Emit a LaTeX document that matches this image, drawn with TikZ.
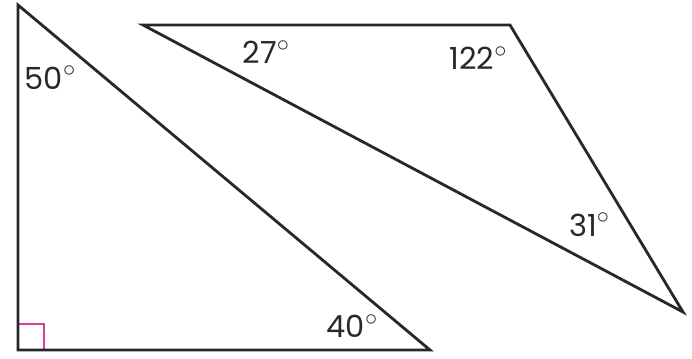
\documentclass[tikz,border=0pt]{standalone}
\usepackage{fontspec}
\setmainfont{Poppins}
\usepackage{xcolor}
\definecolor{darkgray}{RGB}{40, 40, 40}
\definecolor{magenta}{RGB}{220, 60, 150}
\newcommand{\degsign}{\raisebox{0.42em}{\fontsize{22}{22}\selectfont$\circ$}}

\begin{document}
\begin{tikzpicture}[x=0.03cm, y=-0.03cm]
			
			\useasboundingbox (0, 0) rectangle (692, 358);
			
			% TRIANGLE 1 : RECTANGLE
			\coordinate (A) at (18, 5);
			\coordinate (B) at (18, 350);
			\coordinate (C) at (430, 350);
			\draw[magenta, line width=1] (B) ++(0, -26) -- ++(26, 0) -- ++(0, 26);
			\draw[darkgray, line width=2.4, line join=miter] (A) -- (B) -- (C) -- cycle;
			\node[darkgray, font=\fontsize{26}{26}\selectfont] (a50) at (50, 78) {50\degsign};
			\node[darkgray, font=\fontsize{26}{26}\selectfont] (a40) at (352, 326) {40\degsign};
			
			% TRIANGLE 2 : OBTUS
			\coordinate (D) at (143, 25);
			\coordinate (E) at (510, 25);
			\coordinate (F) at (683, 312);
			\draw[darkgray, line width=2.4, line join=miter] (D) -- (E) -- (F) -- cycle;
			\node[darkgray, font=\fontsize{26}{26}\selectfont] (a27) at (266, 52) {27\degsign};
			\node[darkgray, font=\fontsize{26}{26}\selectfont] (a122) at (478, 58) {122\degsign};
			\node[darkgray, font=\fontsize{26}{26}\selectfont] (a31) at (589, 225) {31\degsign};
			
		\end{tikzpicture}
\end{document}
